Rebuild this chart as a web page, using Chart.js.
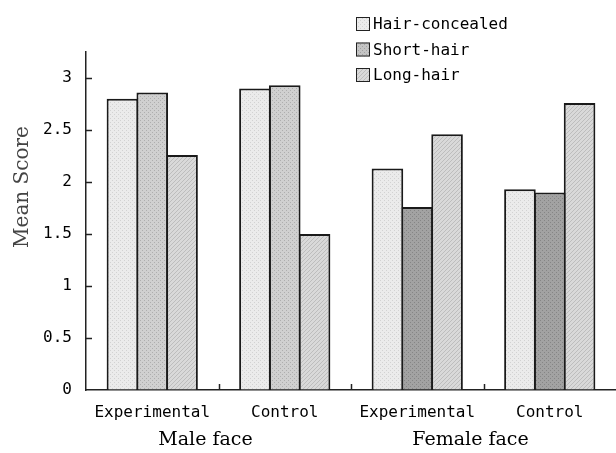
<!DOCTYPE html>
<html>
<head>
<meta charset="utf-8">
<script src="https://cdn.jsdelivr.net/npm/chart.js@4"></script>
<style>
  html, body { margin: 0; padding: 0; background: #fff; }
  #wrap { width: 616px; height: 453px; }
</style>
</head>
<body>
<div id="wrap"><canvas id="grafico"></canvas></div>
<script>
// data
const categorias = ['Experimental', 'Control', 'Experimental', 'Control'];
const grupos = ['Male face', 'Female face'];
const series = ['Hair-concealed', 'Short-hair', 'Long-hair'];
const hairConcealed = [2.80, 2.90, 2.13, 1.93];
const shortHair = [2.86, 2.93, 1.76, 1.90];
const longHair = [2.26, 1.50, 2.46, 2.76];
const yTicks = [0, 0.5, 1, 1.5, 2, 2.5, 3];

const monoFont = '"DejaVu Sans Mono", "Liberation Mono", monospace';
const serifFont = '"DejaVu Serif", "Liberation Serif", serif';

function padrao(fundo, ponto, tipo) {
  var c = document.createElement('canvas');
  c.width = 4; c.height = 4;
  var g = c.getContext('2d');
  g.fillStyle = fundo;
  g.fillRect(0, 0, 4, 4);
  g.fillStyle = ponto;
  if (tipo === 'diag') {
    for (var i = 0; i < 4; i++) g.fillRect(i, 3 - i, 1, 1);
  } else {
    g.fillRect(0, 0, 1, 1);
    g.fillRect(2, 2, 1, 1);
  }
  return g.createPattern(c, 'repeat');
}

var corHC = padrao('#ebebeb', '#d2d2d2');
var corSHclaro = padrao('#d0d0d0', '#aeaeae');
var corSHescuro = padrao('#a2a2a2', '#858585');
var corSHlegenda = padrao('#c4c4c4', '#a0a0a0');
var corLH = padrao('#d9d9d9', '#bdbdbd', 'diag');

var extras = {
  id: 'extras',
  afterDraw(chart) {
    var ctx = chart.ctx;
    var x = chart.scales.x, y = chart.scales.y;
    var area = chart.chartArea;
    ctx.save();
    // inward tick marks
    ctx.strokeStyle = '#222';
    ctx.lineWidth = 1.5;
    yTicks.forEach(function (v) {
      if (v === 0) return;
      var py = Math.round(y.getPixelForValue(v)) + 0.5;
      ctx.beginPath(); ctx.moveTo(area.left, py); ctx.lineTo(area.left + 6, py); ctx.stroke();
    });
    for (var i = 0; i < categorias.length - 1; i++) {
      var px = Math.round((x.getPixelForTick(i) + x.getPixelForTick(i + 1)) / 2) + 0.5;
      ctx.beginPath(); ctx.moveTo(px, area.bottom); ctx.lineTo(px, area.bottom - 6); ctx.stroke();
    }
    // y title
    ctx.fillStyle = '#444';
    ctx.font = '20px ' + serifFont;
    ctx.textAlign = 'center';
    ctx.textBaseline = 'middle';
    ctx.translate(23, 187);
    ctx.rotate(-Math.PI / 2);
    ctx.fillText('Mean Score', 0, 0);
    ctx.restore();

    // legend
    ctx.save();
    var swatches = [corHC, corSHlegenda, corLH];
    ctx.font = '16px ' + monoFont;
    ctx.textBaseline = 'middle';
    chart.data.datasets.forEach(function (ds, k) {
      var cy = 24 + k * 25.5;
      ctx.fillStyle = swatches[k];
      ctx.fillRect(356, cy - 7, 14, 14);
      ctx.strokeStyle = '#222';
      ctx.lineWidth = 1;
      ctx.strokeRect(356.5, cy - 6.5, 13, 13);
      ctx.fillStyle = '#000';
      ctx.fillText(ds.label, 373, cy + 1);
    });
    ctx.restore();
  }
};

var ctx = document.getElementById('grafico').getContext('2d');
var chart = new Chart(ctx, {
  type: 'bar',
  data: {
    labels: categorias,
    datasets: [{
      label: series[0],
      data: hairConcealed,
      backgroundColor: corHC
    }, {
      label: series[1],
      data: shortHair,
      backgroundColor: [corSHclaro, corSHclaro, corSHescuro, corSHescuro]
    }, {
      label: series[2],
      data: longHair,
      backgroundColor: corLH
    }]
  },
  options: {
    responsive: true,
    maintainAspectRatio: false,
    animation: false,
    categoryPercentage: 0.675,
    barPercentage: 1.06,
    elements: {
      bar: { borderColor: '#1a1a1a', borderWidth: 2, inflateAmount: 0 }
    },
    layout: { padding: { top: 52, right: 0, left: 0, bottom: 0 } },
    plugins: {
      legend: { display: false },
      tooltip: { enabled: false }
    },
    scales: {
      x: {
        grid: { drawOnChartArea: false, drawTicks: false },
        border: { display: true, color: '#222', width: 1.5 },
        ticks: { color: '#000', padding: 13, font: { family: monoFont, size: 16 }, maxRotation: 0 },
        afterFit(s) { s.height = 32; }
      },
      x2: {
        type: 'category',
        labels: grupos,
        offset: true,
        position: 'bottom',
        grid: { display: false, drawTicks: false },
        border: { display: false },
        ticks: { color: '#000', padding: 7, labelOffset: -13, font: { family: serifFont, size: 19 }, maxRotation: 0 },
        afterFit(s) { s.height = 31; }
      },
      y: {
        min: 0,
        max: 3.25,
        grid: { drawOnChartArea: false, drawTicks: false },
        border: { display: true, color: '#222', width: 1.5 },
        ticks: {
          color: '#000', padding: 14, font: { family: monoFont, size: 16 },
          callback: function (v) { return String(v); }
        },
        afterBuildTicks(s) { s.ticks = yTicks.map(function (v) { return { value: v }; }); },
        afterFit(s) { s.width = 86; }
      }
    }
  },
  plugins: [extras]
});
</script>
</body>
</html>
